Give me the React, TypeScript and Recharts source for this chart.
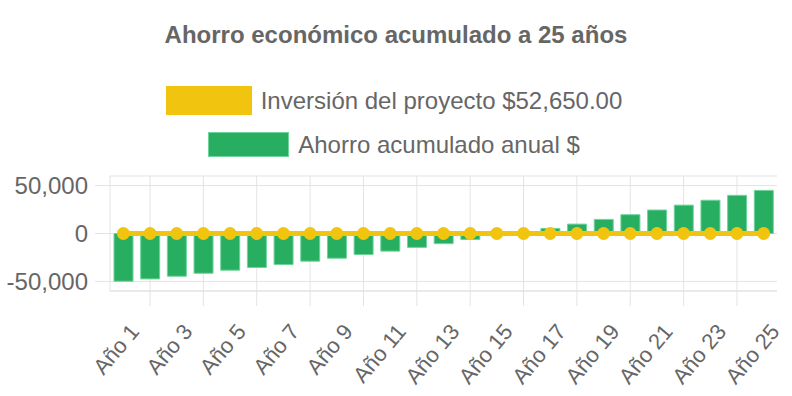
import { ComposedChart, Bar, Line, XAxis, YAxis, CartesianGrid } from "recharts";

const years = [
  "Año 1", "Año 2", "Año 3", "Año 4", "Año 5", "Año 6", "Año 7", "Año 8", "Año 9",
  "Año 10", "Año 11", "Año 12", "Año 13", "Año 14", "Año 15", "Año 16", "Año 17",
  "Año 18", "Año 19", "Año 20", "Año 21", "Año 22", "Año 23", "Año 24", "Año 25",
];

// ahorro acumulado (negativo mientras no se recupera la inversión)
const ahorro = [
  -49800, -47400, -44600, -41500, -38300, -35500, -32400, -28900, -25800, -21900,
  -18400, -14500, -10600, -6300, -2200, 1500, 5300, 9800, 14700, 19600,
  24500, 29600, 34700, 39800, 45000,
];

const inversion = [0, 0, 0, 0, 0, 0, 0, 0, 0, 0, 0, 0, 0, 0, 0, 0, 0, 0, 0, 0, 0, 0, 0, 0, 0];

const yTicks = [-50000, 0, 50000];

const W = 792;
const H = 396;
const MARGIN = { top: 176, right: 15, bottom: 0, left: 0 };
const Y_WIDTH = 110;
const X_HEIGHT = 105;
const TICK = 15;

const YELLOW = "#f1c40f";
const GREEN = "#27ae60";
const GREEN_EDGE = "#6fd49a";
const GRID = "#e3e3e3";
const TEXT = "#666";
const FONT = "'Liberation Sans', Arial, Helvetica, sans-serif";

const rows = years.map((year, i) => ({ year, ahorro: ahorro[i], inversion: inversion[i] }));

const plotLeft = MARGIN.left + Y_WIDTH;
const plotWidth = W - plotLeft - MARGIN.right;
const step = plotWidth / years.length;

// líneas verticales en el centro de los años pares (como en el original)
function evenCenters(props: any) {
  const left = props?.offset?.left ?? plotLeft;
  const width = props?.offset?.width ?? plotWidth;
  const s = width / years.length;
  return years.map((_, i) => left + (i + 0.5) * s).filter((_, i) => i % 2 === 1);
}

function YearTick(props: any) {
  const { x, y, payload } = props;
  const cx = x + step;
  const axisY = y - TICK;
  const last = payload.value === years[years.length - 1];
  return (
    <g>
      {!last && <line x1={cx} x2={cx} y1={axisY} y2={axisY + TICK} stroke={GRID} />}
      <text
        transform={`translate(${x + 17},${y + 26}) rotate(-50)`}
        textAnchor="end"
        fontSize={22}
        fill={TEXT}
        fontFamily={FONT}
      >
        {payload.value}
      </text>
    </g>
  );
}

export default function App() {
  return (
    <div style={{ position: "absolute", left: 0, top: 0, width: W, height: H, background: "#fff", fontFamily: FONT }}>
      <div
        style={{
          position: "absolute", top: 23, left: 0, width: W, textAlign: "center",
          fontSize: 24, fontWeight: "bold", color: TEXT, lineHeight: 1,
        }}
      >
        Ahorro económico acumulado a 25 años
      </div>
      <div
        style={{
          position: "absolute", top: 86, left: 0, width: W - 4, height: 29, display: "flex",
          justifyContent: "center", alignItems: "center", gap: 9, fontSize: 24, color: TEXT,
        }}
      >
        <div style={{ width: 86, height: 29, background: YELLOW }} />
        <span>Inversión del proyecto $52,650.00</span>
      </div>
      <div
        style={{
          position: "absolute", top: 132, left: 0, width: W - 4, height: 25, display: "flex",
          justifyContent: "center", alignItems: "center", gap: 9, fontSize: 24, color: TEXT,
        }}
      >
        <div style={{ width: 79, height: 23, background: GREEN, border: `1px solid ${GREEN_EDGE}` }} />
        <span>Ahorro acumulado anual $</span>
      </div>
      <div style={{ position: "absolute", left: 0, top: 0 }}>
        <ComposedChart width={W} height={H} data={rows} margin={MARGIN}>
          <CartesianGrid stroke={GRID} verticalCoordinatesGenerator={evenCenters} />
          <XAxis
            dataKey="year"
            height={X_HEIGHT}
            interval={1}
            tickSize={TICK}
            tickMargin={0}
            tickLine={false}
            axisLine={{ stroke: GRID }}
            tick={<YearTick />}
          />
          <YAxis
            width={Y_WIDTH}
            domain={[-60000, 60000]}
            ticks={yTicks}
            interval={0}
            tickSize={TICK}
            tickMargin={7}
            tickFormatter={(v: number) => v.toLocaleString("en-US")}
            tick={{ fontSize: 24, fill: TEXT, fontFamily: FONT }}
            tickLine={{ stroke: GRID }}
            axisLine={{ stroke: GRID }}
          />
          <Bar dataKey="ahorro" fill={GREEN} stroke={GREEN_EDGE} strokeWidth={1} barSize={19} isAnimationActive={false} />
          <Line
            type="linear"
            dataKey="inversion"
            stroke={YELLOW}
            strokeWidth={5}
            dot={{ r: 6.5, fill: YELLOW, stroke: YELLOW, strokeWidth: 0 }}
            activeDot={false}
            isAnimationActive={false}
          />
        </ComposedChart>
      </div>
    </div>
  );
}
